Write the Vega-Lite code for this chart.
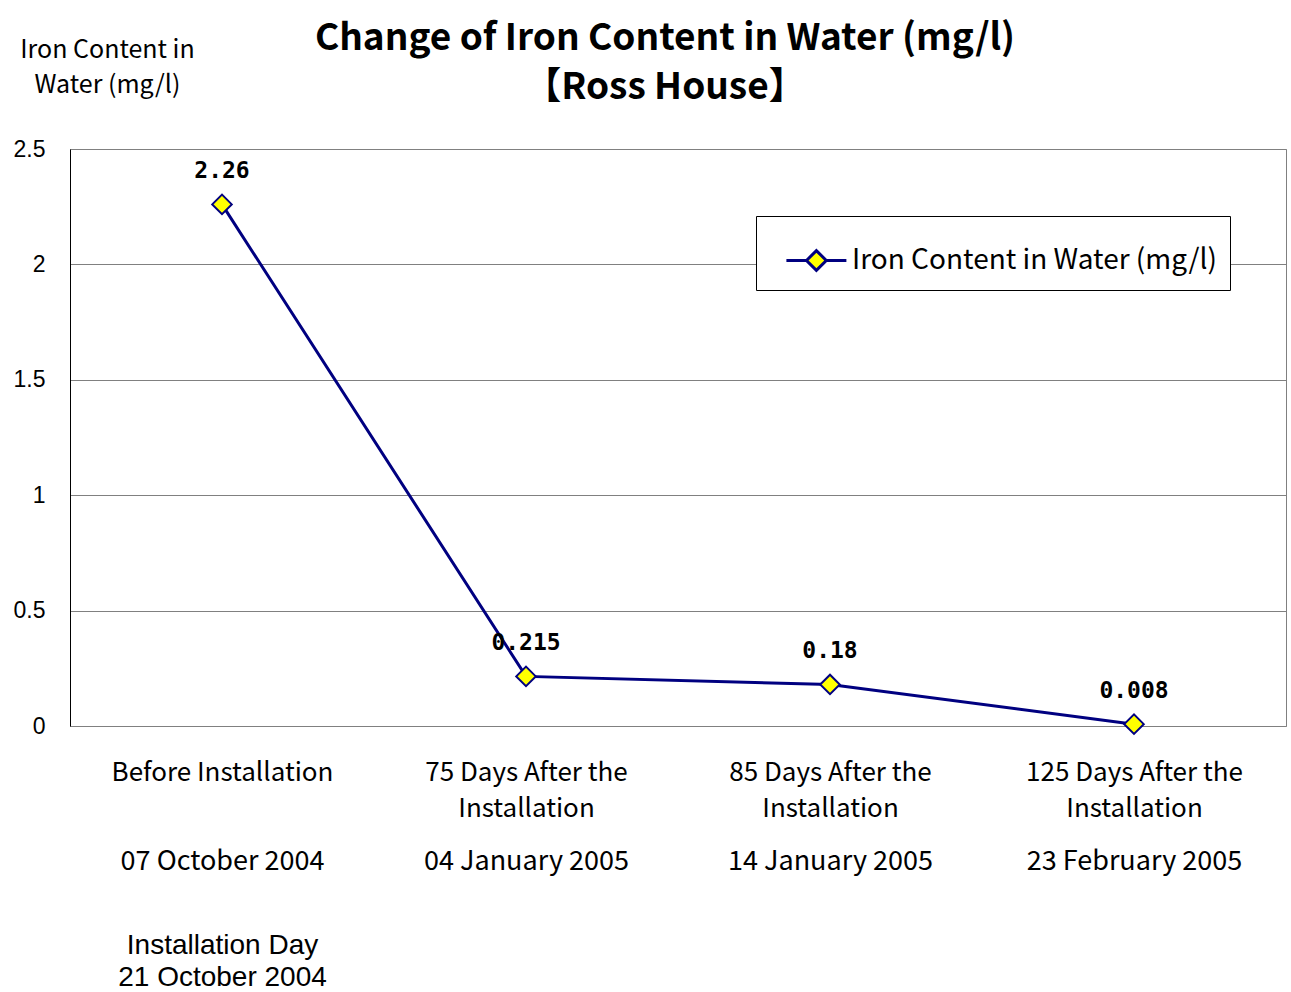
{
  "$schema": "https://vega.github.io/schema/vega-lite/v6.json",
  "width": 1216,
  "height": 577,
  "autosize": {"type": "none"},
  "padding": {"left": 70, "top": 149, "right": 5, "bottom": 266},
  "background": "white",
  "title": {
    "text": ["Change of Iron Content in Water (mg/l)", "【Ross House】"],
    "font": "Noto Sans CJK JP",
    "fontSize": 37,
    "fontWeight": "bold",
    "color": "black",
    "anchor": "middle",
    "frame": "group",
    "dx": -13,
    "dy": 70,
    "offset": 0,
    "lineHeight": 49
  },
  "config": {
    "view": {"stroke": "#808080", "strokeWidth": 1},
    "legend": {
      "orient": "none",
      "legendX": 686,
      "legendY": 67,
      "strokeColor": "#000000",
      "fillColor": "white",
      "padding": 13,
      "symbolType": "M-0.47,0L0.2,0M0.86,0L1.53,0M0.2,0L0.53,-0.33L0.86,0L0.53,0.33Z",
      "symbolSize": 3600,
      "symbolStrokeWidth": 3,
      "symbolFillColor": "#FFFF00",
      "symbolStrokeColor": "#000080",
      "symbolOpacity": 1,
      "labelFont": "Noto Sans CJK JP",
      "labelFontSize": 28,
      "labelColor": "black",
      "labelOffset": 20,
      "labelLimit": 500
    }
  },
  "data": {
    "values": [
      {"cat": "Before Installation", "iron": 2.26, "label": "2.26"},
      {"cat": "75 Days After the Installation", "iron": 0.215, "label": "0.215"},
      {"cat": "85 Days After the Installation", "iron": 0.18, "label": "0.18"},
      {"cat": "125 Days After the Installation", "iron": 0.008, "label": "0.008"}
    ]
  },
  "layer": [
    {
      "mark": {"type": "line", "color": "#000080", "strokeWidth": 3},
      "encoding": {
        "x": {
          "field": "cat",
          "type": "nominal",
          "sort": null,
          "scale": {"type": "point", "padding": 0.5},
          "axis": {
            "orient": "bottom",
            "title": null,
            "domain": false,
            "ticks": false,
            "grid": false,
            "labelAngle": 0,
            "labelFont": "Noto Sans CJK JP",
            "labelFontSize": 26,
            "labelColor": "black",
            "labelLineHeight": 36,
            "labelPadding": 33,
            "labelBaseline": "top",
            "labelLimit": 500,
            "labelOverlap": false,
            "labelExpr": "datum.value == 'Before Installation' ? 'Before Installation' : datum.value == '75 Days After the Installation' ? ['75 Days After the', 'Installation'] : datum.value == '85 Days After the Installation' ? ['85 Days After the', 'Installation'] : ['125 Days After the', 'Installation']"
          }
        },
        "y": {
          "field": "iron",
          "type": "quantitative",
          "scale": {"domain": [0, 2.5], "nice": false},
          "axis": {
            "values": [0, 0.5, 1, 1.5, 2, 2.5],
            "format": "~g",
            "grid": true,
            "gridColor": "#808080",
            "gridWidth": 1,
            "gridOpacity": 1,
            "domain": true,
            "domainColor": "#000000",
            "domainWidth": 1,
            "ticks": false,
            "labelFont": "Liberation Sans",
            "labelFontSize": 23,
            "labelColor": "black",
            "labelPadding": 25,
            "title": ["Iron Content in", "Water (mg/l)"],
            "titleFont": "Noto Sans CJK JP",
            "titleFontSize": 25,
            "titleFontWeight": "normal",
            "titleColor": "black",
            "titleAngle": 0,
            "titleAlign": "center",
            "titleBaseline": "top",
            "titleLineHeight": 35,
            "titleX": 37,
            "titleY": -112
          }
        },
        "color": {
          "datum": "Iron Content in Water (mg/l)",
          "type": "nominal",
          "scale": {"range": ["#000080"]},
          "legend": {"title": null}
        }
      }
    },
    {
      "mark": {"type": "point", "shape": "diamond", "filled": true, "fill": "#FFFF00", "stroke": "#000080", "strokeWidth": 2, "size": 380, "opacity": 1},
      "encoding": {
        "x": {
          "field": "cat",
          "type": "nominal",
          "sort": null,
          "axis": {
            "orient": "bottom",
            "title": null,
            "domain": false,
            "ticks": false,
            "grid": false,
            "labelAngle": 0,
            "labelFont": "Noto Sans CJK JP",
            "labelFontSize": 27,
            "labelColor": "black",
            "labelPadding": 122,
            "labelBaseline": "top",
            "labelLimit": 500,
            "labelOverlap": false,
            "labelExpr": "datum.value == 'Before Installation' ? '07 October 2004' : datum.value == '75 Days After the Installation' ? '04 January 2005' : datum.value == '85 Days After the Installation' ? '14 January 2005' : '23 February 2005'"
          }
        },
        "y": {"field": "iron", "type": "quantitative"}
      }
    },
    {
      "mark": {"type": "text", "dy": -33, "font": "DejaVu Sans Mono", "fontSize": 23, "fontWeight": "bold", "color": "black"},
      "encoding": {
        "x": {
          "field": "cat",
          "type": "nominal",
          "sort": null,
          "axis": {
            "orient": "bottom",
            "title": null,
            "domain": false,
            "ticks": false,
            "grid": false,
            "labelAngle": 0,
            "labelFont": "Liberation Sans",
            "labelFontSize": 28,
            "labelColor": "black",
            "labelLineHeight": 32,
            "labelPadding": 205,
            "labelBaseline": "top",
            "labelLimit": 500,
            "labelOverlap": false,
            "labelExpr": "datum.value == 'Before Installation' ? ['Installation Day', '21 October 2004'] : ''"
          }
        },
        "y": {"field": "iron", "type": "quantitative"},
        "text": {"field": "label", "type": "nominal"}
      }
    }
  ],
  "resolve": {"axis": {"x": "independent"}}
}
